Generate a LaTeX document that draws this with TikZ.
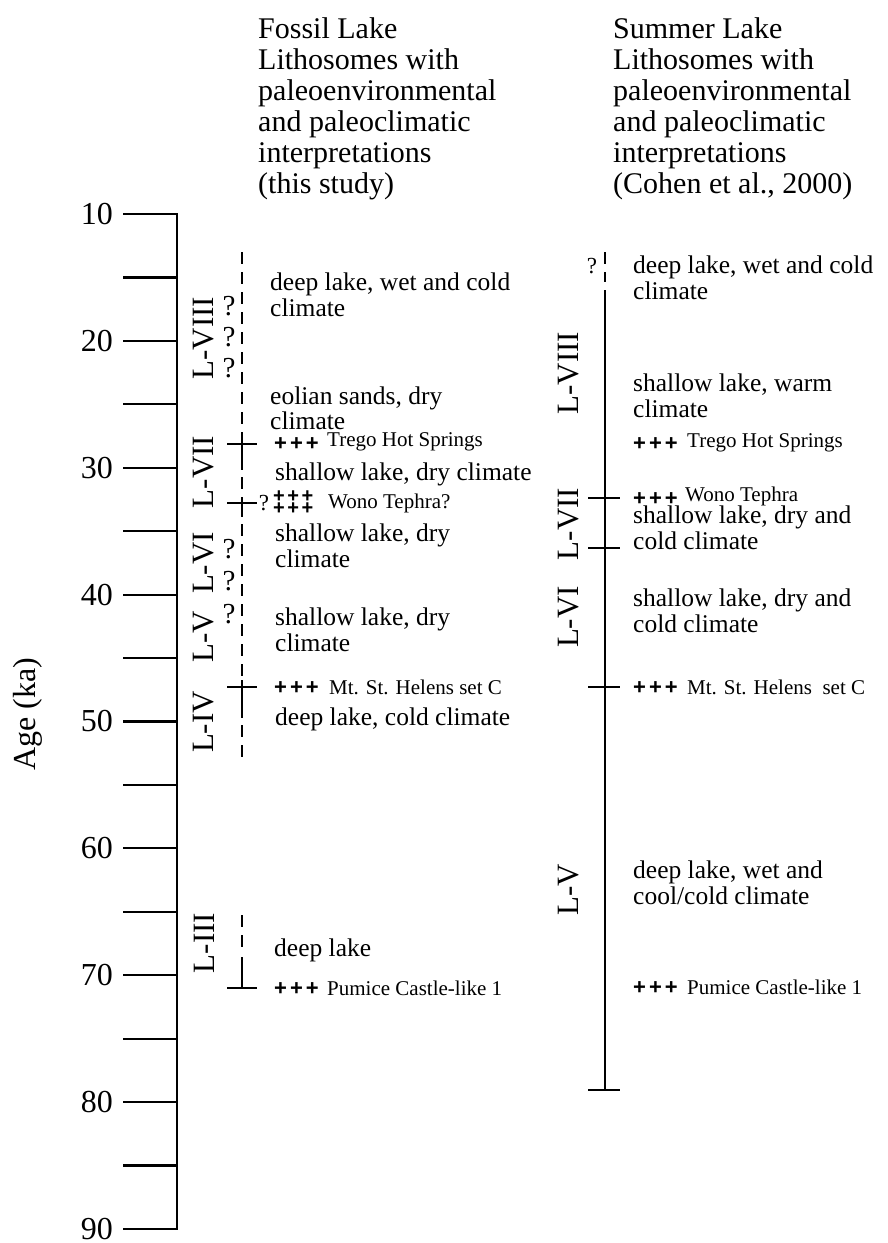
\documentclass[tikz,border=0pt]{standalone}
\usepackage{fontspec}
\setmainfont{Liberation Serif}
\newfontfamily\crossfont{Liberation Sans}
\newcommand\tripl{+\kern3pt+\kern3pt+}
\newcommand\tripls{+\kern2.5pt+\kern2.5pt+}
\begin{document}
\begin{tikzpicture}[x=1pt,y=-1pt,
  ln/.style={line width=2.4pt},
  dsh/.style={line width=2.4pt, dash pattern=on 12pt off 8pt},
  ax/.style={line width=2.2pt},
  body/.style={anchor=north west, inner sep=0pt, align=left, font=\fontsize{25.5}{26}\selectfont},
  small/.style={anchor=west, inner sep=0pt, font=\fontsize{21}{23}\selectfont},
  crs/.style={anchor=west, inner sep=0pt, font=\crossfont\bfseries\fontsize{22}{23}\selectfont},
  crss/.style={anchor=west, inner sep=0pt, font=\crossfont\bfseries\fontsize{20}{21}\selectfont},
  lab/.style={rotate=90, inner sep=0pt, font=\fontsize{31}{32}\selectfont},
  qm/.style={inner sep=0pt, font=\fontsize{29}{30}\selectfont},
  sqm/.style={inner sep=0pt, font=\fontsize{23}{24}\selectfont},
  hdr/.style={anchor=north west, inner sep=0pt, align=left, font=\fontsize{30}{31}\selectfont}
]
\useasboundingbox (0,0) rectangle (888,1243);

% headers
\node[hdr] (hL) at (258,17.5) {Fossil Lake\\Lithosomes with\\paleoenvironmental\\and paleoclimatic\\interpretations\\(this study)};
\node[hdr] (hR) at (613,17.5) {Summer Lake\\Lithosomes with\\paleoenvironmental\\and paleoclimatic\\interpretations\\(Cohen et al., 2000)};

% age axis
\draw[line width=2.6pt] (123,214) -- (177,214) -- (177,1229) -- (123,1229);
\foreach \k in {1,...,15} {
  \pgfmathsetmacro\yy{214+\k*63.4375}
  \draw[ax] (123,\yy) -- (177,\yy);
}
\foreach \v [count=\i from 0] in {10,20,30,40,50,60,70,80,90} {
  \pgfmathsetmacro\yy{214+\i*126.875}
  \node[anchor=east, inner sep=0pt, font=\fontsize{32}{34}\selectfont] (t\v) at (113,\yy) {\v};
}
\node[rotate=90, inner sep=0pt, font=\fontsize{32}{34}\selectfont] (age) at (28,714) {Age (ka)};

% ---- Fossil Lake column ----
\draw[dsh] (242,252) -- (242,438);
\draw[ln] (242,438) -- (242,470);
\draw[ln] (227,444) -- (257,444);
\draw[dsh] (242,477) -- (242,498);
\draw[ln] (242,498) -- (242,517);
\draw[ln] (227,503) -- (257,503);
\draw[dsh] (242,524) -- (242,680);
\draw[ln] (242,680) -- (242,718);
\draw[ln] (227,687) -- (257,687);
\draw[dsh] (242,725) -- (242,757);
\draw[dsh] (242,915) -- (242,947);
\draw[ln] (242,957) -- (242,988);
\draw[ln] (227,988) -- (257,988);

\node[lab] (l8) at (204,338) {L-VIII};
\node[lab] (l7) at (204,472) {L-VII};
\node[lab] (l6) at (204,563) {L-VI};
\node[lab] (l5) at (204,637) {L-V};
\node[lab] (l4) at (204,722) {L-IV};
\node[lab] (l3) at (204,943) {L-III};

\node[qm] (q1) at (229,306) {?};
\node[qm] (q2) at (229,337) {?};
\node[qm] (q3) at (229,368) {?};
\node[qm] (q4) at (229,549) {?};
\node[qm] (q5) at (229,581) {?};
\node[qm] (q6) at (229,614) {?};

\node[body] (fa) at (270,273) {deep lake, wet and cold\\climate};
\node[body, font=\fontsize{25.5}{25}\selectfont] (fb) at (270,387) {eolian sands, dry\\climate};
\node[crs] (fc1) at (274,444) {\tripl};
\node[small] (fc2) at (327,442) {Trego Hot Springs};
\node[body] (fd) at (275,463) {shallow lake, dry climate};
\node[sqm] (fq) at (264,503) {?};
\node[crss] (fe1) at (273,497) {\tripls};
\node[crss] (fe2) at (273,509) {\tripls};
\node[small] (fe3) at (328,503) {Wono Tephra?};
\node[body] (ff) at (275,524) {shallow lake, dry\\climate};
\node[body] (fg) at (275,608) {shallow lake, dry\\climate};
\node[crs] (fh1) at (274,688) {\tripl};
\node[small] (fh2) at (329,687) {Mt. St. Helens set C};
\node[body] (fi) at (275,708) {deep lake, cold climate};
\node[body] (fj) at (274,939) {deep lake};
\node[crs] (fk1) at (274,989) {\tripl};
\node[small] (fk2) at (327,988) {Pumice Castle-like 1};

% ---- Summer Lake column ----
\draw[dsh] (605,252) -- (605,282);
\draw[ln] (605,290) -- (605,1090);
\draw[ln] (588,498) -- (620,498);
\draw[ln] (588,548) -- (620,548);
\draw[ln] (588,687) -- (620,687);
\draw[ln] (588,1090) -- (620,1090);

\node[sqm] (sq) at (592,266) {?};

\node[lab] (s8) at (569,373) {L-VIII};
\node[lab] (s7) at (569,524) {L-VII};
\node[lab] (s6) at (569,617) {L-VI};
\node[lab] (s5) at (569,890) {L-V};

\node[body] (sa) at (633,256) {deep lake, wet and cold\\climate};
\node[body] (sb) at (633,374) {shallow lake, warm\\climate};
\node[crs] (sc1) at (633,444) {\tripl};
\node[small] (sc2) at (687,443) {Trego Hot Springs};
\node[crs] (sd1) at (633,499) {\tripl};
\node[small] (sd2) at (685,496) {Wono Tephra};
\node[body] (se) at (633,506) {shallow lake, dry and\\cold climate};
\node[body] (sf) at (633,589) {shallow lake, dry and\\cold climate};
\node[crs] (sg1) at (633,688) {\tripl};
\node[small] (sg2) at (687,687) {Mt. St. Helens\ \ set C};
\node[body] (sh) at (633,861) {deep lake, wet and\\cool/cold climate};
\node[crs] (si1) at (633,988) {\tripl};
\node[small] (si2) at (687,987) {Pumice Castle-like 1};
\end{tikzpicture}
\end{document}
